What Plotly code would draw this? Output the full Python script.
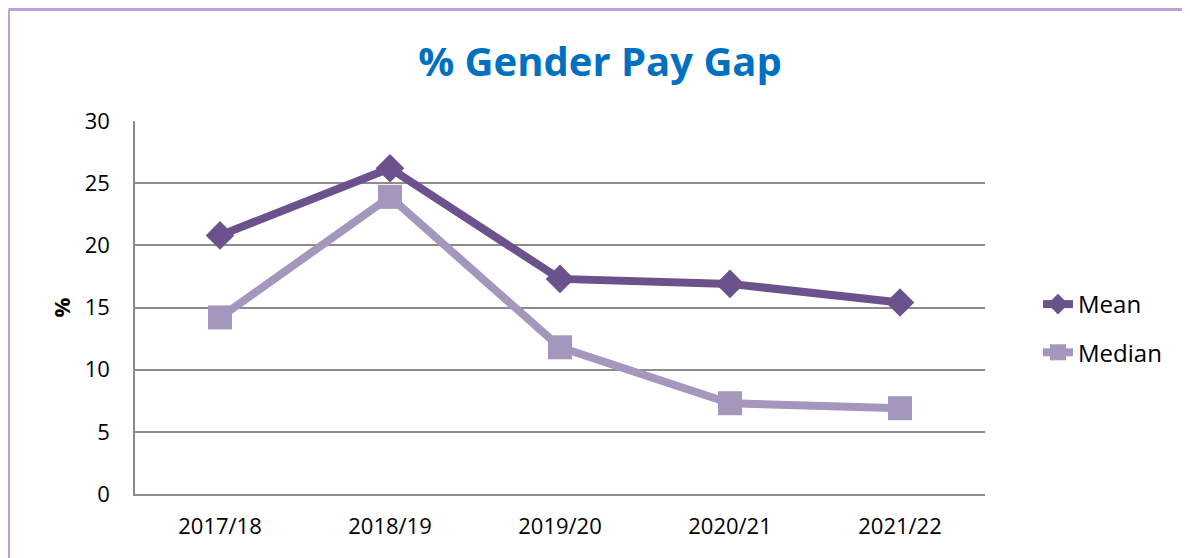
import plotly.graph_objects as go

years = ["2017/18", "2018/19", "2019/20", "2020/21", "2021/22"]
mean_gap = [20.8, 26.2, 17.3, 16.9, 15.4]
median_gap = [14.2, 23.9, 11.8, 7.3, 6.9]
y_ticks = [0, 5, 10, 15, 20, 25, 30]

MEAN_COLOR = "#6B528C"
MEDIAN_COLOR = "#A496BC"
BORDER = "#BEA0D6"
GRID = "#8C8C8C"
FONT = "Open Sans, Liberation Sans, sans-serif"

fig = go.Figure()
fig.add_trace(go.Scatter(
    x=years, y=mean_gap, name="Mean", mode="lines+markers", legendgroup="a",
    line=dict(color=MEAN_COLOR, width=8),
    marker=dict(symbol="diamond", size=22, color=MEAN_COLOR),
))
fig.add_trace(go.Scatter(
    x=years, y=median_gap, name="Median", mode="lines+markers", legendgroup="b",
    line=dict(color=MEDIAN_COLOR, width=8),
    marker=dict(symbol="square", size=24, color=MEDIAN_COLOR),
))

OFF = 8  # page body margin
W, H = 1190 - OFF, 558 - OFF
L, R, T, B = 135 - OFF, 985 - OFF, 121 - OFF, 494 - OFF
pw, ph = R - L, B - T

def px_x(p):
    return (p - OFF - L) / pw

def px_y(p):
    return (B - (p - OFF)) / ph

fig.update_layout(
    width=W, height=H,
    margin=dict(l=L, r=W - R, t=T, b=H - B),
    paper_bgcolor="white", plot_bgcolor="white",
    font=dict(family=FONT, size=22, color="black"),
    title=dict(text="<b>% Gender Pay Gap</b>", x=(600 - OFF) / W, xanchor="center",
               y=1 - (62 - OFF) / H, yanchor="middle", xref="container", yref="container",
               font=dict(family=FONT, size=40, color="#0070C0")),
    xaxis=dict(type="category", range=[-0.5, 4.5], showgrid=False,
               showline=True, linecolor=GRID, linewidth=1.5, ticks="",
               tickfont=dict(size=22), ticklabelstandoff=12),
    yaxis=dict(range=[0, 30], tickvals=y_ticks, showgrid=True, gridcolor=GRID,
               gridwidth=1.5, showline=True, linecolor=GRID, linewidth=1.5,
               zeroline=False, ticks="", tickfont=dict(size=22), ticklabelstandoff=19,
               title=dict(text="<b>%</b>", font=dict(size=22), standoff=8)),
    legend=dict(x=px_x(1038), xanchor="left", y=px_y(282), yanchor="top",
                font=dict(size=24), tracegroupgap=14, traceorder="grouped",
                bgcolor="rgba(0,0,0,0)"),
    shapes=[
        dict(type="line", xref="paper", yref="paper", x0=px_x(8.5), x1=px_x(1200),
             y0=px_y(9.5), y1=px_y(9.5), line=dict(color=BORDER, width=3)),
        dict(type="line", xref="paper", yref="paper", x0=px_x(8.5), x1=px_x(8.5),
             y0=px_y(9.5), y1=px_y(570), line=dict(color=BORDER, width=3)),
    ],
)

fig.write_html("out.html")
